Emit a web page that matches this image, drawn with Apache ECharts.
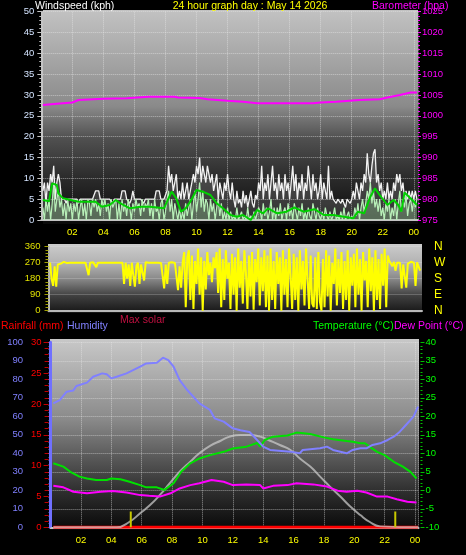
<!DOCTYPE html>
<html><head><meta charset="utf-8">
<script src="https://cdn.jsdelivr.net/npm/echarts@6/dist/echarts.min.js"></script>
<style>html,body{margin:0;padding:0;background:#000;}#c{width:466px;height:555px;}</style>
</head><body><div id="c"></div>
<script>
// ---------- DATA ----------
const xTickLabels = ['02','04','06','08','10','12','14','16','18','20','22','00'];
const compassLetters = ['N','E','S','W','N'];

// wind samples every 0.1 h starting at 00:06 (0.1 h)
const windStart = 0.1, windStep = 0.1;
const windGust = [
 7,9,4,9,7,11,9,13,5,9,
 11,9,5,5,5,4,5,5,5,5,
 5,5,5,4,5,5,5,5,5,5,
 5,5,5,5,7,7,7,5,5,5,
 5,5,5,5,5,4,5,5,5,5,
 5,7,7,7,5,5,4,5,7,5,
 5,5,5,5,5,4,5,5,5,5,
 5,5,5,7,7,7,5,5,5,5,
 7,13,9,11,7,9,11,5,7,5,
 9,5,7,9,5,7,9,11,9,13,
 11,15,9,13,11,9,13,11,9,11,
 7,9,11,5,9,7,5,9,7,11,
 7,5,9,5,3,7,4,5,3,7,
 4,6,3,5,7,4,3,6,5,9,
 7,13,5,9,7,11,5,9,13,7,
 9,5,11,7,9,5,11,7,9,5,
 9,13,7,11,5,9,7,11,5,9,
 7,13,9,5,11,7,9,5,7,11,
 5,9,7,5,13,5,7,5,5,4,
 5,5,4,5,5,3,5,5,4,5,
 7,5,9,7,5,9,7,11,9,16,
 11,9,13,16,17,9,11,7,9,5,
 7,5,9,5,7,5,9,7,11,9,
 11,7,9,5,7,5,7,5,7,5,
 7,5];
const windSpeed = [
 3,0,5,2,5,0,4,9,2,5,
 7,3,5,1,4,0,5,2,4,0,
 4,2,5,0,3,5,1,4,0,5,
 4,1,5,3,5,2,4,1,5,3,
 5,2,4,0,5,3,4,5,0,4,
 0,5,2,4,1,5,3,0,4,2,
 5,3,4,1,5,2,4,3,5,1,
 4,0,5,2,3,0,4,5,0,2,
 5,7,2,5,0,4,2,0,3,0,
 2,0,4,1,3,5,0,4,7,2,
 5,9,3,7,2,5,4,0,5,2,
 4,0,3,5,1,4,0,2,0,3,
 0,2,0,1,0,3,0,0,2,0,
 1,0,3,0,1,0,2,0,0,3,
 2,0,4,1,3,0,2,5,0,3,
 0,3,1,4,0,2,3,0,4,1,
 3,0,4,2,0,3,1,4,0,2,
 0,3,1,0,4,2,0,3,1,0,
 2,0,3,1,0,2,0,1,3,0,
 1,0,2,0,3,0,1,2,0,1,
 0,3,1,4,0,3,5,2,4,7,
 5,9,4,7,3,5,2,5,1,3,
 0,4,2,5,0,3,1,5,0,4,
 7,2,5,3,6,1,4,5,2,5,
 3,5];
const windAvgHours = [0.1,0.5,0.7,1.0,1.1,1.4,2.4,3.5,3.9,4.4,4.8,5.1,5.7,6.4,7.0,7.9,8.4,8.7,9.0,9.3,9.6,10.0,10.4,10.9,11.3,11.7,12.2,12.6,13.0,13.5,13.9,14.3,14.6,15.2,15.8,16.3,16.9,17.6,18.2,18.8,19.5,20.1,20.4,20.8,21.2,21.5,21.8,22.3,22.7,23.0,23.2,23.4,23.9,24.2];
const windAvgValues = [4.8,4.5,8.8,8.4,6.4,5.2,4.4,4.4,3.2,3.6,4.8,4.0,2.8,3.2,3.2,2.8,6.8,5.2,2.0,2.8,4.4,7.2,6.8,6.0,4.0,2.8,1.2,0.8,1.2,0,2.4,1.6,2.8,1.6,2.0,3.0,2.0,2.6,1.2,1.2,0.8,0.4,2.0,1.6,5.6,7.6,6.0,3.6,4.8,3.6,2.0,6.6,4.8,3.6];

const baroHours = [0.1,1.0,2.0,2.4,4.0,5.5,6.9,8.6,8.8,10.2,10.7,12.0,13.0,13.9,17.5,18.0,19.0,20.5,21.8,22.3,23.1,23.8,24.2];
const baroValues = [1002.6,1002.9,1003.2,1003.8,1004.1,1004.2,1004.6,1004.6,1004.4,1004.3,1004.0,1003.6,1003.4,1003.0,1003.0,1003.2,1003.4,1003.8,1004.0,1004.4,1005.0,1005.6,1005.6];

const dirStart = 0.1, dirStep = 0.1;
const windDir = [
 270,180,140,250,135,260,270,265,270,275,
 270,268,272,270,265,270,272,270,268,270,
 272,270,268,270,275,200,270,268,272,270,
 245,270,272,270,268,270,272,270,271,270,
 268,270,272,270,275,270,268,270,150,270,
 180,260,140,270,200,135,250,270,150,260,
 270,170,272,268,270,265,270,272,270,268,
 270,272,268,270,125,260,150,270,268,272,
 270,268,270,115,250,130,270,330,20,300,
 340,60,310,10,280,150,350,90,300,0,
 280,120,330,200,270,160,300,240,330,100,
 350,20,290,60,340,180,270,10,320,90,
 300,0,350,130,280,40,340,220,10,310,
 80,330,5,290,160,350,30,300,110,340,
 20,310,0,350,60,280,10,330,150,300,
 0,340,90,290,20,350,200,10,320,60,
 300,0,340,120,280,30,350,180,10,310,
 40,20,300,10,330,50,0,290,20,340,
 80,310,0,270,150,350,30,290,100,330,
 10,280,60,340,0,300,140,320,20,350,
 90,290,0,330,170,280,20,350,110,300,
 0,340,60,290,10,320,140,350,20,310,
 280,270,250,275,225,270,265,270,125,260,
 270,130,265,270,275,268,270,140,272,270,
 225];

const humHours = [0.18,0.6,1.06,1.5,1.7,2.4,2.8,3.4,3.7,4.0,4.35,5.0,5.9,6.3,7.0,7.4,7.75,8.1,8.5,9.0,9.8,10.5,10.8,11.4,12.0,12.5,13.1,13.3,14.0,14.45,15.8,16.4,16.6,17.75,18.2,18.6,19.5,19.9,20.4,20.8,21.2,21.7,22.2,22.6,23.0,23.4,23.9,24.2];
const humValues = [67,68.8,73.3,74,76.4,78.2,81.4,83.2,82.7,80.5,81.4,83.2,86.8,88.6,89,91.7,90.4,86.8,79.6,74.2,67,63.4,58.9,57.1,53.5,52.5,51.5,49.9,43.6,41.8,40.9,40,41.8,42.7,43.6,41.8,40,41.8,42.7,42.7,44.5,45.4,47.2,49,51.7,55.3,59.8,65.2];

const tempHours = [0.18,0.84,1.3,1.9,2.4,3.0,3.7,4.0,4.6,5.2,5.9,6.3,7.0,7.5,8.1,8.6,9.2,9.8,10.5,11.4,12.0,12.9,13.6,13.8,14.1,14.65,15.6,16.2,17.1,18.0,18.6,19.5,19.9,20.4,20.7,21.0,21.5,22.0,22.6,23.2,23.7,24.1];
const tempValues = [7.3,6.4,5.0,3.7,3.2,2.8,2.8,3.2,3.0,2.3,1.4,0.8,0.8,0.1,1.9,5.0,7.3,8.6,9.5,10.4,11.3,11.8,12.8,11.8,13.6,14.5,14.8,15.6,15.2,14.3,13.8,13.3,13.1,12.7,12.7,11.8,10.4,9.5,7.7,6.4,5.0,3.2];

const dewHours = [0.18,0.84,1.5,2.4,3.3,4.1,5.0,5.9,6.5,7.2,7.9,8.5,9.2,9.8,10.6,11.4,12.0,12.9,13.8,14.0,14.65,15.6,16.2,17.3,18.2,18.9,19.5,20.2,20.8,21.5,22.2,22.8,23.5,24.1];
const dewValues = [1.2,0.8,-0.4,-0.8,-0.4,-0.2,-0.6,-1.3,-1.5,-1.7,-0.8,0.5,1.4,1.9,2.8,2.3,1.4,1.6,1.4,0.5,1.2,1.4,1.9,1.6,1.0,-0.1,-0.4,-0.1,-0.6,-1.7,-1.7,-2.4,-3.1,-3.3];

const solarHours = [0.18,4.35,5.2,5.9,6.55,7.2,7.85,8.5,9.2,9.8,10.5,11.2,11.8,12.5,13.1,13.8,14.45,15.1,15.8,16.4,17.1,17.75,18.4,19.1,19.7,20.4,21.0,21.7,24.2];
const solarValues = [0,0,60,152,240,350,476,600,710,800,880,936,980,998,998,980,936,890,836,746,656,548,440,330,230,132,60,10,0];

const rainHours = [0.18,24.2];
const rainValues = [0,0];

const sunMarkers = [5.28,22.7];
const sunMarkerHeight = 8.5;

// ---------- BUILD ----------
const seq = (start, step, arr) => arr.map((v, i) => [+(start + i * step).toFixed(2), v]);
const pairs = (hs, vs) => hs.map((h, i) => [h, vs[i]]);
function hourLabel(v) {
  const k = Math.round(v / 2);
  if (v <= 0 || Math.abs(v / 2 - k) > 1e-6) return '';
  return xTickLabels[k - 1] || '';
}
const FONT = '"Liberation Sans", Arial, sans-serif';
const TF = '10.5px ' + FONT;
const dotted = {show: true, lineStyle: {type: 'dotted', color: 'rgba(235,235,235,0.55)', width: 1}};
const grad = (stops) => new echarts.graphic.LinearGradient(0, 0, 0, 1, stops.map((c) => ({offset: c[0], color: c[1]})));

const chart = echarts.init(document.getElementById('c'));
const line = (name, xi, yi, data, color, width, extra) => Object.assign({
  name, type: 'line', xAxisIndex: xi, yAxisIndex: yi, data, symbol: 'none',
  lineStyle: {color, width}, itemStyle: {color}, silent: true
}, extra || {});

const series = [
  line('Gust', 0, 0, seq(windStart, windStep, windGust), '#f2f2f2', 1.3,
       {areaStyle: {color: 'rgba(200,200,200,0.28)'}}),
  line('Wind', 0, 0, seq(windStart, windStep, windSpeed), '#b8f0b8', 1.2,
       {areaStyle: {color: 'rgba(170,230,170,0.45)'}}),
  line('Average', 0, 0, pairs(windAvgHours, windAvgValues), '#00d000', 2),
  line('Barometer', 0, 1, pairs(baroHours, baroValues), '#ff00ff', 2),
  line('Direction', 1, 2, seq(dirStart, dirStep, windDir), '#ffff00', 2),
  line('Rainfall', 2, 5, pairs(rainHours, rainValues), '#ff0000', 3),
  line('Max solar', 2, 7, pairs(solarHours, solarValues), 'rgba(200,200,200,0.75)', 2, {smooth: true}),
  line('Dew Point', 2, 6, pairs(dewHours, dewValues), '#ff00ff', 2),
  line('Temperature', 2, 6, pairs(tempHours, tempValues), '#00e000', 2),
  line('Humidity', 2, 4, pairs(humHours, humValues), '#8080ff', 2)
];
sunMarkers.forEach(h => series.push(line('sun', 2, 4, [[h, 0], [h, sunMarkerHeight]], '#c8c800', 2)));

const plain = v => String(v);
const option = {
  backgroundColor: '#000',
  animation: false,
  textStyle: {fontFamily: FONT},
  grid: [
    {left: 41.3, top: 11.7, width: 376.7, height: 208.3},
    {left: 48.5, top: 246.7, width: 373.5, height: 64},
    {left: 50.6, top: 342.3, width: 367.9, height: 185}
  ],
  xAxis: [
    {gridIndex: 0, type: 'value', min: 0, max: 24.27, interval: 2, offset: 3.5,
     axisLine: {lineStyle: {color: '#c4c4c4', width: 2}}, axisTick: {show: false},
     axisLabel: {color: '#ffff00', fontSize: 9.5, margin: 4, formatter: hourLabel}, splitLine: dotted},
    {gridIndex: 1, type: 'value', min: 0, max: 24.22, interval: 2, offset: 1.5,
     axisLine: {lineStyle: {color: '#b8b8b8', width: 2}}, axisTick: {show: false},
     axisLabel: {show: false}, splitLine: {show: false}},
    {gridIndex: 2, type: 'value', min: 0, max: 24.23, interval: 2, offset: 2,
     axisLine: {lineStyle: {color: '#c4c4c4', width: 2}}, axisTick: {show: false},
     axisLabel: {color: '#ffff00', fontSize: 9.5, margin: 6, formatter: hourLabel}, splitLine: dotted}
  ],
  yAxis: [
    {gridIndex: 0, type: 'value', position: 'left', min: 0, max: 50, interval: 5,
     axisLine: {show: true, lineStyle: {color: '#c4c4c4', width: 2}},
     axisTick: {show: true, length: 4, lineStyle: {color: '#c4c4c4'}},
     minorTick: {show: true, splitNumber: 5, length: 2, lineStyle: {color: '#c4c4c4'}},
     axisLabel: {color: '#d4e4ff', fontSize: 9.5, margin: 7, formatter: plain}, splitLine: dotted},
    {gridIndex: 0, type: 'value', position: 'right', min: 975, max: 1025, interval: 5,
     axisLine: {show: false},
     axisTick: {show: true, length: 3, lineStyle: {color: '#ff00ff'}},
     minorTick: {show: true, splitNumber: 5, length: 2, lineStyle: {color: '#ff00ff'}},
     axisLabel: {color: '#ff00ff', fontSize: 9.5, margin: 4, formatter: plain}, splitLine: {show: false}},
    {gridIndex: 1, type: 'value', position: 'left', min: 0, max: 360, interval: 90,
     axisLine: {show: true, lineStyle: {color: '#b8b8b8', width: 2}},
     axisTick: {show: true, length: 4, lineStyle: {color: '#a0a000'}},
     minorTick: {show: true, splitNumber: 5, length: 3, lineStyle: {color: '#a0a000'}},
     axisLabel: {color: '#e0e000', fontSize: 9.5, margin: 8, formatter: plain},
     splitLine: {show: true, lineStyle: {type: 'dotted', color: 'rgba(235,235,235,0.45)'}}},
    {gridIndex: 1, type: 'value', position: 'right', min: 0, max: 360, interval: 90,
     axisLine: {show: false}, axisTick: {show: false},
     axisLabel: {color: '#ffff00', fontSize: 12, margin: 12, formatter: v => compassLetters[Math.round(v / 90)]},
     splitLine: {show: false}},
    {gridIndex: 2, type: 'value', position: 'left', offset: 20.6, min: 0, max: 100, interval: 10,
     axisLine: {show: true, lineStyle: {color: '#7070ff', width: 3}},
     axisTick: {show: true, length: 4, lineStyle: {color: '#7070ff'}},
     minorTick: {show: true, splitNumber: 5, length: 2, lineStyle: {color: '#7070ff'}},
     axisLabel: {color: '#8080ff', fontSize: 9.5, margin: 7, formatter: plain}, splitLine: {show: false}},
    {gridIndex: 2, type: 'value', position: 'left', offset: 2, min: 0, max: 30, interval: 5,
     axisLine: {show: false},
     axisTick: {show: true, length: 5, lineStyle: {color: '#c00000'}},
     minorTick: {show: true, splitNumber: 5, length: 4, lineStyle: {color: '#c00000'}},
     axisLabel: {color: '#ff0000', fontSize: 9.5, margin: 7, formatter: plain}, splitLine: {show: false}},
    {gridIndex: 2, type: 'value', position: 'right', offset: 2, min: -10, max: 40, interval: 5,
     axisLine: {show: false},
     axisTick: {show: true, length: 4, lineStyle: {color: '#00c000'}},
     minorTick: {show: true, splitNumber: 5, length: 2, lineStyle: {color: '#00c000'}},
     axisLabel: {color: '#00ff00', fontSize: 9.5, margin: 5, formatter: plain}, splitLine: dotted},
    {gridIndex: 2, type: 'value', show: false, min: 0, max: 2000}
  ],
  series,
  graphic: [
    {type: 'rect', z: -10, silent: true, shape: {x: 43, y: 10, width: 375, height: 214},
     style: {fill: grad([[0, '#c2c2c2'], [0.45, '#8a8a8a'], [0.6, '#505050'], [0.78, '#2c2c2c'], [1, '#0a0a0a']])}},
    {type: 'rect', z: -10, silent: true, shape: {x: 48, y: 244, width: 374, height: 69},
     style: {fill: grad([[0, '#cccccc'], [0.3, '#b0b0b0'], [0.5, '#8a8a8a'], [0.75, '#404040'], [1, '#151515']])}},
    {type: 'rect', z: -10, silent: true, shape: {x: 50, y: 339, width: 369, height: 191},
     style: {fill: grad([[0, '#c8c8c8'], [0.2, '#ababab'], [0.42, '#8a8a8a'], [0.6, '#5e5e5e'], [0.8, '#2e2e2e'], [1, '#080808']])}},
    {type: 'text', x: 35, y: 6, z: 10, style: {text: 'Windspeed (kph)', fill: '#ffffff', font: TF, verticalAlign: 'middle'}},
    {type: 'text', x: 250, y: 6, z: 10, style: {text: '24 hour graph day : May 14 2026', fill: '#ffff00', font: TF, align: 'center', verticalAlign: 'middle'}},
    {type: 'text', x: 372, y: 6, z: 10, style: {text: 'Barometer (hpa)', fill: '#ff00ff', font: TF, verticalAlign: 'middle'}},
    {type: 'text', x: 1, y: 326, z: 10, style: {text: 'Rainfall (mm)', fill: '#ff0000', font: TF, verticalAlign: 'middle'}},
    {type: 'text', x: 67, y: 326, z: 10, style: {text: 'Humidity', fill: '#8080ff', font: TF, verticalAlign: 'middle'}},
    {type: 'text', x: 120, y: 320, z: 10, style: {text: 'Max solar', fill: '#c01040', font: TF, verticalAlign: 'middle'}},
    {type: 'text', x: 313, y: 326, z: 10, style: {text: 'Temperature (°C)', fill: '#00ff00', font: TF, verticalAlign: 'middle'}},
    {type: 'text', x: 394, y: 326, z: 10, style: {text: 'Dew Point (°C)', fill: '#ff00ff', font: TF, verticalAlign: 'middle'}}
  ]
};
chart.setOption(option);
</script></body></html>
